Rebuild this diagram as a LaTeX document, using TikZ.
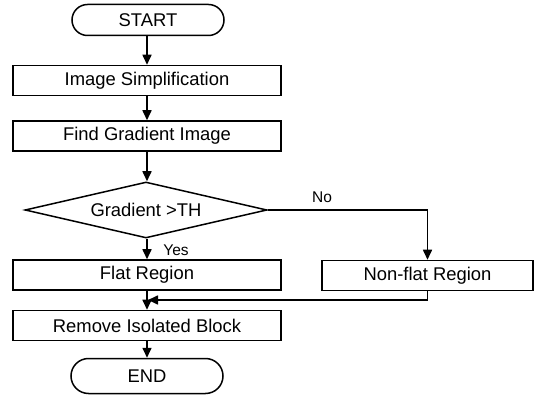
\documentclass[tikz,border=0pt]{standalone}
\usepackage{fontspec}
\setmainfont{Liberation Sans}
\usetikzlibrary{shapes.misc,shapes.geometric,arrows.meta}

\tikzset{
  every node/.style={font=\fontsize{18.4}{21}\selectfont},
  flowline/.style={line width=1.6pt},
  arrowline/.style={flowline,-{Triangle[length=10pt,width=9pt]}},
  terminal/.style={draw,line width=1.5pt,rounded rectangle,minimum width=152pt,
                   minimum height=31pt,inner sep=0pt},
  procbox/.style={draw,line width=1.5pt,rectangle,minimum height=30pt,inner sep=0pt},
  decision/.style={draw,line width=1.5pt,diamond,aspect=4.3,minimum width=242pt,
                   minimum height=56pt,inner sep=0pt},
  branchlabel/.style={font=\fontsize{15.5}{17}\selectfont,inner sep=0pt}
}

\begin{document}
\begin{tikzpicture}[x=1pt,y=-1pt]
  \useasboundingbox (0,0) rectangle (538,403);

  % main column
  \node[terminal] (start) at (148,20) {START};
  \node[procbox,minimum width=268pt] (simp) at (147,80.5) {Image Simplification};
  \node[procbox,minimum width=268pt] (grad) at (147,136) {Find Gradient Image};
  \node[decision] (test) at (146,210) {Gradient >TH};
  \node[procbox,minimum width=268pt] (flat) at (147,275) {Flat Region};
  \node[procbox,minimum width=211pt] (nonflat) at (427.5,275.5) {Non-flat Region};
  \node[procbox,minimum width=268pt] (remove) at (147,325.5) {Remove Isolated Block};
  \node[terminal,minimum height=35pt] (finish) at (147,376) {END};

  % join point of the two branches
  \coordinate (join) at (148,300);

  % connectors
  \draw[arrowline] (start.south -| simp.north) -- (simp.north);
  \draw[arrowline] (simp.south) -- (grad.north);
  \draw[arrowline] (grad.south) -- (test.north -| grad.south);
  \draw[arrowline] (test.south -| flat.north) -- (flat.north);
  \draw[arrowline] (test.east) -| (nonflat.north);
  \draw[arrowline] (nonflat.south) |- (join);
  \draw[arrowline] (flat.south) -- (remove.north);
  \draw[arrowline] (remove.south) -- (finish.north);

  % branch labels
  \node[branchlabel] (nolabel) at (322,197) {No};
  \node[branchlabel] (yeslabel) at (176,250) {Yes};
\end{tikzpicture}
\end{document}
